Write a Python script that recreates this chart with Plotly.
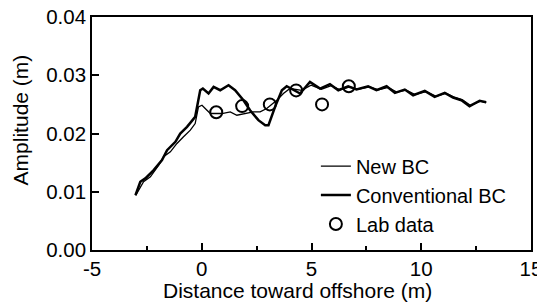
import plotly.graph_objects as go

# Conventional BC (thick line)
conv_x = [-3.02, -2.80, -2.57, -2.19, -1.81, -1.58, -1.20, -0.98, -0.67, -0.45, -0.30, -0.07, 0.05,
          0.31, 0.54, 0.84, 1.22, 1.52, 1.90, 2.20, 2.58, 2.89, 3.04, 3.34, 3.65, 3.87,
          4.48, 4.93, 5.39, 5.84, 6.22, 6.67, 7.05, 7.58, 7.96, 8.42, 8.80, 9.25, 9.63,
          10.16, 10.61, 11.07, 11.45, 11.83, 12.20, 12.66, 12.96]
conv_y = [0.0094, 0.01171, 0.01229, 0.01371, 0.01543, 0.01714, 0.01857, 0.02000, 0.02114, 0.02229, 0.02286, 0.02743, 0.02772,
          0.02686, 0.02800, 0.02743, 0.02829, 0.02743, 0.02571, 0.02400, 0.02229, 0.02143, 0.02143, 0.02457, 0.02743, 0.02811,
          0.02686, 0.02886, 0.02771, 0.02846, 0.02743, 0.02811, 0.02755, 0.02811, 0.02743, 0.02811, 0.02697, 0.02755, 0.02657,
          0.02731, 0.02628, 0.02697, 0.02618, 0.02571, 0.02469, 0.02563, 0.02537]

# New BC (thin line)
new_x = [-3.02, -2.95, -2.65, -2.34, -1.96, -1.74, -1.43, -1.13, -0.83, -0.52, -0.30, -0.15, 0.01,
         0.16, 0.39, 0.92, 1.30, 1.60, 1.98, 2.35, 2.66, 2.96, 3.42, 3.72, 4.02,
         4.55, 4.98, 5.45, 5.90, 6.30, 6.75, 7.12, 7.65, 8.05, 8.50, 8.88, 9.32, 9.72,
         10.22, 10.68, 11.12, 11.50, 11.88, 12.25, 12.70, 12.96]
new_y = [0.0094, 0.00977, 0.01171, 0.01257, 0.01457, 0.01600, 0.01686, 0.01829, 0.01943, 0.02057, 0.02171, 0.02457, 0.02486,
         0.02430, 0.02343, 0.02343, 0.02371, 0.02314, 0.02343, 0.02371, 0.02371, 0.02429, 0.02571, 0.02686, 0.02772,
         0.02740, 0.02830, 0.02760, 0.02820, 0.02750, 0.02800, 0.02760, 0.02800, 0.02750, 0.02790, 0.02710, 0.02745, 0.02670,
         0.02720, 0.02640, 0.02690, 0.02625, 0.02580, 0.02480, 0.02555, 0.02530]

# Lab data (open circles)
lab_x = [0.66, 1.84, 3.10, 4.30, 5.48, 6.70]
lab_y = [0.02366, 0.02470, 0.02500, 0.02740, 0.02500, 0.02810]

x_ticks = [-5, 0, 5, 10, 15]
y_ticks = [0.00, 0.01, 0.02, 0.03, 0.04]

FONT = "Liberation Sans, Arial, sans-serif"
TICK_FS = 20.5
LEG_FS = 20
TITLE_FS = 21

fig = go.Figure()
fig.add_trace(go.Scatter(x=new_x, y=new_y, mode="lines", name="New BC",
                         line=dict(color="black", width=1.3)))
fig.add_trace(go.Scatter(x=conv_x, y=conv_y, mode="lines", name="Conventional BC",
                         line=dict(color="black", width=2.5)))
fig.add_trace(go.Scatter(x=lab_x, y=lab_y, mode="markers", name="Lab data",
                         marker=dict(symbol="circle-open", size=12, color="black",
                                     line=dict(width=2, color="black"))))

fig.update_layout(
    width=537, height=296,
    margin=dict(l=83.5, r=13.5, t=8.7, b=54),
    paper_bgcolor="white", plot_bgcolor="white",
    font=dict(family=FONT, size=TICK_FS, color="black"),
    showlegend=True,
    legend=dict(x=0.51, y=0.444, xanchor="left", yanchor="top",
                bgcolor="rgba(0,0,0,0)", font=dict(size=LEG_FS),
                tracegroupgap=0),
    annotations=[
        dict(text="Distance toward offshore (m)", xref="paper", yref="paper",
             x=0.467, y=0, xanchor="center", yanchor="middle", yshift=-40,
             showarrow=False, font=dict(size=TITLE_FS)),
        dict(text="Amplitude (m)", xref="paper", yref="paper", textangle=-90,
             x=-0.1636, y=0.557, xanchor="center", yanchor="middle",
             showarrow=False, font=dict(size=TITLE_FS)),
    ],
)
fig.update_xaxes(range=[-5, 15], tickvals=x_ticks, ticktext=[str(v) for v in x_ticks],
                 ticks="inside", ticklen=7, tickwidth=1.5, tickcolor="black",
                 minor=dict(dtick=2.5, ticks="inside", ticklen=4, tickwidth=1.5, tickcolor="black"),
                 showline=True, linewidth=1.6, linecolor="black", mirror=True,
                 showgrid=False, zeroline=False, automargin=False,
                 ticklabeloverflow="allow",
                 tickfont=dict(size=TICK_FS))
fig.update_yaxes(range=[0, 0.04], tickvals=y_ticks, ticktext=["%.2f" % v for v in y_ticks],
                 ticks="inside", ticklen=7, tickwidth=1.5, tickcolor="black",
                 showline=True, linewidth=1.6, linecolor="black", mirror=True,
                 showgrid=False, zeroline=False, automargin=False,
                 ticklabeloverflow="allow",
                 tickfont=dict(size=TICK_FS))

fig.write_html("out.html")
